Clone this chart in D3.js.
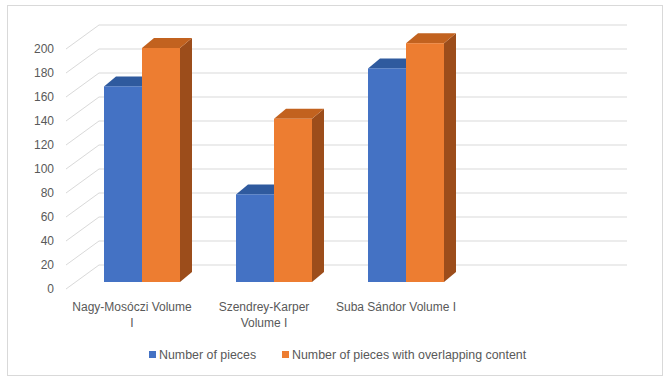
<!DOCTYPE html>
<html><head><meta charset="utf-8">
<script src="https://cdn.jsdelivr.net/npm/d3@7"></script>
<style>body{margin:0;background:#fff}svg{display:block}text{font-family:"Liberation Sans",Arial,sans-serif;fill:#595959}</style>
</head><body><svg id="c" width="670" height="383"></svg>
<script>
const categories = ["Nagy-Mosóczi Volume I", "Szendrey-Karper Volume I", "Suba Sándor Volume I"];
const seriesNames = ["Number of pieces", "Number of pieces with overlapping content"];
const numberOfPieces = [163, 73, 178];
const overlapping = [195, 136, 199];
const yTicks = [0, 20, 40, 60, 80, 100, 120, 140, 160, 180, 200];
const slotCount = 4;

const colors = {
  front: ["#4472c4", "#ed7d31"],
  top: ["#2f5a9e", "#c2621f"],
  side: ["#2a4f8c", "#9c4d1b"]
};
const seriesValues = [numberOfPieces, overlapping];

const svg = d3.select("#c");
svg.append("rect").attr("x", 7.5).attr("y", 5.5).attr("width", 655).attr("height", 370)
  .attr("fill", "#fff").attr("stroke", "#d9d9d9");

// front plane geometry
const DX = 33, DY = 24;          // wall depth
const BZX = 10, BZY = 7;         // bar front offset into depth
const BDX = 12, BDY = 10;        // bar depth
const x0 = d3.scaleBand().domain(d3.range(slotCount)).range([66, 594]);
const x1 = d3.scaleBand().domain(d3.range(seriesNames.length)).range([0, x0.bandwidth()]).paddingOuter(0.737);
const y = d3.scaleLinear().domain([0, 200]).range([289, 49]);

// grid: left diagonals + back wall lines
const g = svg.append("g");
yTicks.forEach(t => {
  g.append("line").attr("x1", x0.range()[0]).attr("y1", y(t)).attr("x2", x0.range()[0] + DX).attr("y2", y(t) - DY)
    .attr("stroke", "#d9d9d9").attr("stroke-width", 1);
  g.append("line").attr("x1", x0.range()[0] + DX).attr("y1", y(t) - DY).attr("x2", x0.range()[1] + DX).attr("y2", y(t) - DY)
    .attr("stroke", "#d9d9d9").attr("stroke-width", 1);
});

// y axis labels
svg.append("g").selectAll("text").data(yTicks).join("text")
  .attr("x", 54).attr("y", d => y(d)).attr("dy", "0.35em").attr("text-anchor", "end")
  .attr("font-size", 12).text(d => d);

// bars
const bars = svg.append("g");
categories.forEach((c, i) => {
  seriesValues.forEach((vals, s) => {
    const v = vals[i];
    const xl = x0(i) + x1(s) + BZX, xr = xl + x1.bandwidth();
    const yb = y(0) - BZY, yt = y(v) - BZY;
    bars.append("path").attr("d", `M${xr},${yt}L${xr + BDX},${yt - BDY}L${xr + BDX},${yb - BDY}L${xr},${yb}Z`)
      .attr("fill", colors.side[s]);
    bars.append("path").attr("d", `M${xl},${yt}L${xl + BDX},${yt - BDY}L${xr + BDX},${yt - BDY}L${xr},${yt}Z`)
      .attr("fill", colors.top[s]);
    bars.append("rect").attr("x", xl).attr("y", yt).attr("width", xr - xl).attr("height", yb - yt)
      .attr("fill", colors.front[s]);
  });
});

// category labels (wrapped)
const labels = svg.append("g");
categories.forEach((c, i) => {
  const cx = x0(i) + x0.bandwidth() / 2;
  const t = labels.append("text").attr("x", cx).attr("y", 311).attr("text-anchor", "middle").attr("font-size", 12);
  const words = c.split(" ");
  let line = [], lines = [];
  const tmp = t.append("tspan");
  words.forEach(w => {
    line.push(w);
    tmp.text(line.join(" "));
    if (tmp.node().getComputedTextLength() > 122 && line.length > 1) {
      line.pop(); lines.push(line.join(" ")); line = [w];
    }
  });
  lines.push(line.join(" "));
  tmp.remove();
  lines.forEach((l, k) => t.append("tspan").attr("x", cx).attr("dy", k === 0 ? 0 : 16).text(l));
});

// legend
const legX = [149, 282];
seriesNames.forEach((n, s) => {
  svg.append("rect").attr("x", legX[s]).attr("y", 351).attr("width", 7).attr("height", 7).attr("fill", colors.front[s]);
  svg.append("text").attr("x", legX[s] + 10).attr("y", 359).attr("font-size", 12.4).text(n);
});
</script></body></html>
